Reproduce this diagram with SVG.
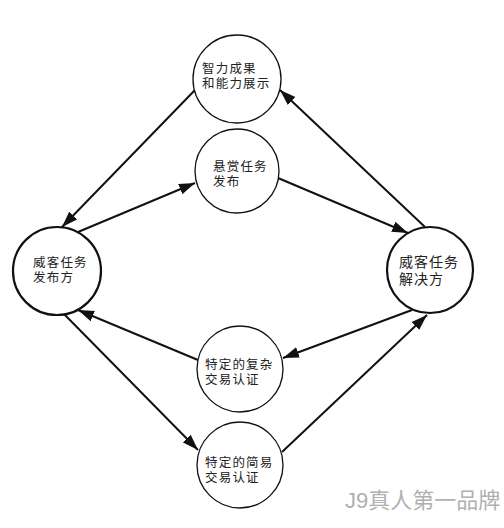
<svg xmlns="http://www.w3.org/2000/svg" width="504" height="528" viewBox="0 0 504 528">
<style>
.node circle{fill:#fff;stroke:#111;stroke-width:1.3}
.node.major circle{stroke-width:2.2}
text{font-family:"Liberation Sans","Noto Sans CJK SC",sans-serif;font-size:12.5px;letter-spacing:1.2px;fill:#222}
.big{font-size:14px;letter-spacing:1px}
.conn line{stroke:#111;stroke-width:2;marker-end:url(#ah)}
.wm{font-size:22px;letter-spacing:0;fill:#b0b0b0}
</style>
<defs>
<marker id="ah" markerUnits="userSpaceOnUse" markerWidth="17" markerHeight="12" refX="16" refY="6" orient="auto">
<path d="M0,0.5 L16,6 L0,11.5 z" fill="#111"/>
</marker>
</defs>
<rect width="504" height="528" fill="#fff"/>
<g class="conn">
<line x1="195" y1="90" x2="62" y2="227"/>
<line x1="78" y1="232" x2="195" y2="183"/>
<line x1="278" y1="178" x2="408" y2="233"/>
<line x1="425" y1="227" x2="280" y2="90"/>
<line x1="198" y1="360" x2="78" y2="310"/>
<line x1="63" y1="313" x2="198" y2="450"/>
<line x1="282" y1="452" x2="427" y2="315"/>
<line x1="412" y1="310" x2="283" y2="358"/>
</g>
<g id="n-top" class="node"><circle cx="237" cy="79" r="44"/><text x="202" y="73">智力成果<tspan x="202" dy="15">和能力展示</tspan></text></g>
<g id="n-reward" class="node"><circle cx="237" cy="171" r="42"/><text x="213" y="171">悬赏任务<tspan x="213" dy="15">发布</tspan></text></g>
<g id="n-left" class="node major"><circle cx="57" cy="271" r="44"/><text x="33" y="267">威客任务<tspan x="33" dy="15">发布方</tspan></text></g>
<g id="n-right" class="node major"><circle cx="430" cy="270" r="43"/><text class="big" x="399" y="267">威客任务<tspan x="399" dy="17">解决方</tspan></text></g>
<g id="n-complex" class="node"><circle cx="240" cy="369" r="43"/><text x="205" y="369">特定的复杂<tspan x="205" dy="15">交易认证</tspan></text></g>
<g id="n-simple" class="node"><circle cx="240" cy="465" r="43"/><text x="205" y="467">特定的简易<tspan x="205" dy="15">交易认证</tspan></text></g>
<text class="wm" x="345" y="508">J9真人第一品牌</text>
</svg>
